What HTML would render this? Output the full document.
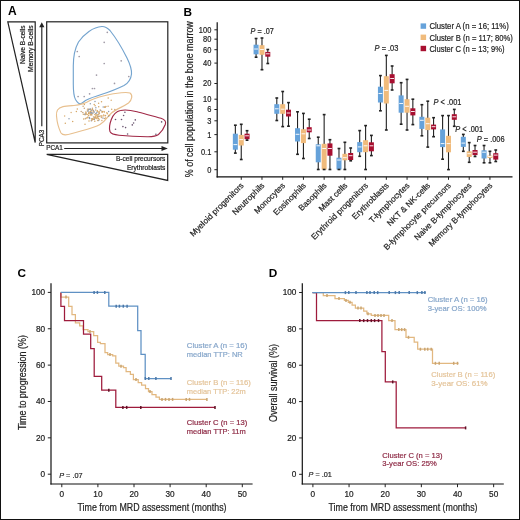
<!DOCTYPE html>
<html><head><meta charset="utf-8"><style>
html,body{margin:0;padding:0;background:#fff;}
svg{display:block;filter:blur(0.4px);}
text{font-family:"Liberation Sans",sans-serif;}
</style></head><body>
<svg width="520" height="520" viewBox="0 0 520 520" font-family="Liberation Sans, sans-serif">
<rect x="0" y="0" width="520" height="520" fill="#fff"/>
<text transform="translate(7.90,15.40)" font-size="12" fill="#000" font-weight="bold">A</text>
<polygon points="7.8,21.9 35.2,21.9 35.2,142.5" fill="none" stroke="#222" stroke-width="1.2"/>
<text transform="translate(25.30,25.40) rotate(-90)" font-size="6.6" fill="#222" stroke="#222" stroke-width="0.2" text-anchor="end">Naive B-cells</text>
<text transform="translate(33.10,25.40) rotate(-90)" font-size="6.75" fill="#222" stroke="#222" stroke-width="0.2" text-anchor="end">Memory B-cells</text>
<line x1="41.80" y1="126.30" x2="41.80" y2="26.50" stroke="#222" stroke-width="1.15" />
<polygon points="39.2,27.3 44.4,27.3 41.8,22.3" fill="#222"/>
<text transform="translate(43.60,146.30) rotate(-90)" font-size="6.4" fill="#222" stroke="#222" stroke-width="0.2">PCA3</text>
<rect x="46.7" y="21.8" width="121.1" height="121.1" fill="none" stroke="#222" stroke-width="1.2"/>
<text transform="translate(46.20,150.30)" font-size="6.4" fill="#222" stroke="#222" stroke-width="0.2">PCA1</text>
<line x1="64.20" y1="148.50" x2="162.00" y2="148.50" stroke="#222" stroke-width="1.15" />
<polygon points="161.5,146 161.5,151 167.8,148.5" fill="#222"/>
<polygon points="46.7,154.3 167.7,154.3 167.7,180.4" fill="none" stroke="#222" stroke-width="1.2"/>
<text transform="translate(165.40,161.30)" font-size="6.6" fill="#222" stroke="#222" stroke-width="0.2" text-anchor="end">B-cell precursors</text>
<text transform="translate(165.40,169.90)" font-size="6.6" fill="#222" stroke="#222" stroke-width="0.2" text-anchor="end">Erythroblasts</text>
<path d="M101.9,26.5 C93,27 84,34 78.5,42 C74,50 73.3,58 73.3,66 L73.3,84 C73.3,91 73.6,96 75.5,99.5 C77,102 78.8,104 80.4,103.9 C82.3,103.4 84,101.2 86.5,99.9 C91,97.8 96,96.2 102,94.3 C109,92 117,89 124,85.5 C128.5,83 131,79 131.5,74 C131.8,69 130,64 127,58 C122,48 116,38 110,30.5 C107,27.5 104,26.4 101.9,26.5 Z" fill="none" stroke="#74a4cf" stroke-width="1.15"/>
<path d="M57.5,110 C60,106 66,106 74,105.5 C80,105 85,103.5 90,100.5 C97,97 104,95.5 112,94 C119,93 126,91.5 130,93 C133,95 132,100 128.5,103 C123,107 116,109 111.5,113 C107,117 106,121 100,124.5 C93,128.5 82,130.5 72,133.5 C67,135 63,136 61,133 C59,129 57,122 56.5,116 C56.3,113 56.6,111.5 57.5,110 Z" fill="none" stroke="#e8c08f" stroke-width="1.15"/>
<path d="M120.5,110.5 C125,109.5 130,110 137,111.8 C145,114 155,116.5 161,118.3 C165,119.5 166.3,121.5 165.3,124.5 C164,128 162,131.5 158.5,134.5 C156,136.3 152,136.8 147,136.7 C138,136.5 128,136 119,135.2 C114,134.7 111,134 110,131.5 C109,128.5 109.6,124 111.3,119.5 C113,115 116,111.3 120.5,110.5 Z" fill="none" stroke="#a02846" stroke-width="1.15"/>
<circle cx="107.3" cy="32.3" r="0.85" fill="#a09aa6"/>
<circle cx="104.2" cy="42.3" r="0.85" fill="#a09aa6"/>
<circle cx="77.3" cy="51.5" r="0.85" fill="#a09aa6"/>
<circle cx="79.2" cy="56.5" r="0.85" fill="#a09aa6"/>
<circle cx="121.2" cy="60.8" r="0.85" fill="#a09aa6"/>
<circle cx="104.2" cy="63.5" r="0.85" fill="#a09aa6"/>
<circle cx="96.5" cy="75.1" r="0.85" fill="#a09aa6"/>
<circle cx="128.8" cy="76.5" r="0.85" fill="#a09aa6"/>
<circle cx="114.5" cy="83.4" r="0.85" fill="#a09aa6"/>
<circle cx="92.4" cy="88.5" r="0.85" fill="#a09aa6"/>
<circle cx="94.5" cy="88.5" r="0.85" fill="#a09aa6"/>
<circle cx="89.6" cy="93.8" r="0.85" fill="#a09aa6"/>
<circle cx="78.1" cy="96.5" r="0.85" fill="#a09aa6"/>
<circle cx="84.2" cy="96.5" r="0.85" fill="#a09aa6"/>
<circle cx="124.9" cy="112.2" r="0.8" fill="#6a5570"/>
<circle cx="123.6" cy="115.5" r="0.8" fill="#6a5570"/>
<circle cx="115.5" cy="119.5" r="0.8" fill="#6a5570"/>
<circle cx="121.5" cy="119.5" r="0.8" fill="#6a5570"/>
<circle cx="135.3" cy="119.9" r="0.8" fill="#6a5570"/>
<circle cx="133.6" cy="123" r="0.8" fill="#6a5570"/>
<circle cx="132.3" cy="124.9" r="0.8" fill="#6a5570"/>
<circle cx="122.9" cy="126.6" r="0.8" fill="#6a5570"/>
<circle cx="125.6" cy="127.6" r="0.8" fill="#6a5570"/>
<circle cx="115.5" cy="129.3" r="0.8" fill="#6a5570"/>
<circle cx="127.6" cy="134" r="0.8" fill="#6a5570"/>
<circle cx="155.9" cy="134.3" r="0.8" fill="#6a5570"/>
<circle cx="161.6" cy="121.9" r="0.8" fill="#6a5570"/>
<circle cx="98.1" cy="118.7" r="0.75" fill="#d6a766"/>
<circle cx="99.4" cy="113.3" r="0.75" fill="#c7a27a"/>
<circle cx="98.3" cy="116.3" r="0.75" fill="#8e9db2"/>
<circle cx="94.4" cy="119.5" r="0.75" fill="#d6a766"/>
<circle cx="65.3" cy="123.2" r="0.75" fill="#d6a766"/>
<circle cx="108.5" cy="116.2" r="0.75" fill="#8e9db2"/>
<circle cx="89.0" cy="120.9" r="0.75" fill="#d6a766"/>
<circle cx="89.5" cy="112.9" r="0.75" fill="#d6a766"/>
<circle cx="94.9" cy="114.5" r="0.75" fill="#d6a766"/>
<circle cx="82.8" cy="112.6" r="0.75" fill="#c7a27a"/>
<circle cx="85.9" cy="112.0" r="0.75" fill="#d6a766"/>
<circle cx="98.7" cy="120.4" r="0.75" fill="#8e9db2"/>
<circle cx="89.4" cy="117.6" r="0.75" fill="#8e9db2"/>
<circle cx="109.5" cy="115.6" r="0.75" fill="#dbb078"/>
<circle cx="91.3" cy="114.1" r="0.75" fill="#d6a766"/>
<circle cx="90.3" cy="108.9" r="0.75" fill="#8e9db2"/>
<circle cx="104.0" cy="111.5" r="0.75" fill="#dbb078"/>
<circle cx="91.9" cy="112.8" r="0.75" fill="#dbb078"/>
<circle cx="86.3" cy="117.9" r="0.75" fill="#d6a766"/>
<circle cx="85.3" cy="118.7" r="0.75" fill="#c7a27a"/>
<circle cx="93.4" cy="111.9" r="0.75" fill="#d6a766"/>
<circle cx="99.1" cy="111.7" r="0.75" fill="#d6a766"/>
<circle cx="81.2" cy="111.5" r="0.75" fill="#c7a27a"/>
<circle cx="95.2" cy="118.2" r="0.75" fill="#dbb078"/>
<circle cx="90.1" cy="114.0" r="0.75" fill="#d6a766"/>
<circle cx="93.5" cy="116.9" r="0.75" fill="#c7a27a"/>
<circle cx="103.0" cy="115.9" r="0.75" fill="#d6a766"/>
<circle cx="87.7" cy="117.8" r="0.75" fill="#d6a766"/>
<circle cx="77.3" cy="108.9" r="0.75" fill="#d6a766"/>
<circle cx="103.2" cy="106.9" r="0.75" fill="#8e9db2"/>
<circle cx="90.7" cy="115.1" r="0.75" fill="#c7a27a"/>
<circle cx="96.7" cy="115.1" r="0.75" fill="#d6a766"/>
<circle cx="90.8" cy="112.9" r="0.75" fill="#8e9db2"/>
<circle cx="97.6" cy="116.3" r="0.75" fill="#d6a766"/>
<circle cx="94.5" cy="117.8" r="0.75" fill="#dbb078"/>
<circle cx="84.4" cy="104.6" r="0.75" fill="#d6a766"/>
<circle cx="114.8" cy="109.6" r="0.75" fill="#c7a27a"/>
<circle cx="99.2" cy="119.2" r="0.75" fill="#dbb078"/>
<circle cx="90.4" cy="109.5" r="0.75" fill="#d6a766"/>
<circle cx="89.7" cy="109.2" r="0.75" fill="#8e9db2"/>
<circle cx="98.6" cy="103.3" r="0.75" fill="#d6a766"/>
<circle cx="97.0" cy="117.6" r="0.75" fill="#d6a766"/>
<circle cx="94.3" cy="118.9" r="0.75" fill="#8e9db2"/>
<circle cx="94.8" cy="121.2" r="0.75" fill="#d6a766"/>
<circle cx="108.2" cy="98.1" r="0.75" fill="#d6a766"/>
<circle cx="83.3" cy="114.3" r="0.75" fill="#d6a766"/>
<circle cx="88.3" cy="110.9" r="0.75" fill="#8e9db2"/>
<circle cx="64.6" cy="116.1" r="0.75" fill="#dbb078"/>
<circle cx="91.0" cy="114.2" r="0.75" fill="#d6a766"/>
<circle cx="89.4" cy="117.9" r="0.75" fill="#8e9db2"/>
<circle cx="76.4" cy="111.5" r="0.75" fill="#d6a766"/>
<circle cx="108.9" cy="115.4" r="0.75" fill="#d6a766"/>
<circle cx="97.6" cy="120.4" r="0.75" fill="#dbb078"/>
<circle cx="102.1" cy="111.9" r="0.75" fill="#c7a27a"/>
<circle cx="102.1" cy="111.9" r="0.75" fill="#d6a766"/>
<circle cx="88.4" cy="109.4" r="0.75" fill="#8e9db2"/>
<circle cx="90.3" cy="103.8" r="0.75" fill="#8e9db2"/>
<circle cx="103.7" cy="115.0" r="0.75" fill="#d6a766"/>
<circle cx="98.9" cy="112.3" r="0.75" fill="#d6a766"/>
<circle cx="100.8" cy="115.9" r="0.75" fill="#dbb078"/>
<circle cx="93.5" cy="110.5" r="0.75" fill="#8e9db2"/>
<circle cx="101.9" cy="120.4" r="0.75" fill="#dbb078"/>
<circle cx="98.7" cy="106.7" r="0.75" fill="#d6a766"/>
<circle cx="91.8" cy="113.9" r="0.75" fill="#c7a27a"/>
<circle cx="98.3" cy="118.3" r="0.75" fill="#d6a766"/>
<circle cx="89.7" cy="118.6" r="0.75" fill="#8e9db2"/>
<circle cx="95.1" cy="105.8" r="0.75" fill="#d6a766"/>
<circle cx="91.3" cy="120.8" r="0.75" fill="#8e9db2"/>
<circle cx="105.5" cy="115.5" r="0.75" fill="#d6a766"/>
<circle cx="87.6" cy="110.9" r="0.75" fill="#8e9db2"/>
<circle cx="91.8" cy="118.7" r="0.75" fill="#c7a27a"/>
<circle cx="93.1" cy="118.9" r="0.75" fill="#dbb078"/>
<circle cx="105.9" cy="106.6" r="0.75" fill="#c7a27a"/>
<circle cx="97.7" cy="117.0" r="0.75" fill="#d6a766"/>
<circle cx="88.7" cy="112.4" r="0.75" fill="#dbb078"/>
<circle cx="104.9" cy="107.2" r="0.75" fill="#dbb078"/>
<circle cx="104.6" cy="107.0" r="0.75" fill="#d6a766"/>
<circle cx="90.9" cy="111.5" r="0.75" fill="#c7a27a"/>
<circle cx="85.1" cy="114.8" r="0.75" fill="#dbb078"/>
<circle cx="92.8" cy="113.2" r="0.75" fill="#8e9db2"/>
<circle cx="91.3" cy="110.2" r="0.75" fill="#8e9db2"/>
<circle cx="92.5" cy="109.8" r="0.75" fill="#d6a766"/>
<circle cx="107.3" cy="113.8" r="0.75" fill="#d6a766"/>
<circle cx="111.2" cy="100.3" r="0.75" fill="#dbb078"/>
<circle cx="86.0" cy="112.9" r="0.75" fill="#c7a27a"/>
<circle cx="102.4" cy="111.5" r="0.75" fill="#d6a766"/>
<circle cx="105.7" cy="118.1" r="0.75" fill="#d6a766"/>
<circle cx="97.3" cy="110.7" r="0.75" fill="#dbb078"/>
<circle cx="69.0" cy="118.8" r="0.75" fill="#8e9db2"/>
<circle cx="88.6" cy="113.5" r="0.75" fill="#d6a766"/>
<circle cx="97.3" cy="115.0" r="0.75" fill="#dbb078"/>
<circle cx="88.0" cy="108.9" r="0.75" fill="#c7a27a"/>
<circle cx="95.4" cy="117.3" r="0.75" fill="#d6a766"/>
<circle cx="100.8" cy="110.4" r="0.75" fill="#8e9db2"/>
<circle cx="104.3" cy="118.4" r="0.75" fill="#c7a27a"/>
<circle cx="95.7" cy="110.1" r="0.75" fill="#c7a27a"/>
<circle cx="105.2" cy="107.2" r="0.75" fill="#dbb078"/>
<circle cx="111.7" cy="109.2" r="0.75" fill="#d6a766"/>
<circle cx="91.8" cy="115.1" r="0.75" fill="#d6a766"/>
<circle cx="84.3" cy="108.2" r="0.75" fill="#c7a27a"/>
<circle cx="102.9" cy="117.9" r="0.75" fill="#8e9db2"/>
<circle cx="95.8" cy="115.8" r="0.75" fill="#dbb078"/>
<circle cx="94.9" cy="116.9" r="0.75" fill="#d6a766"/>
<circle cx="108.6" cy="111.4" r="0.75" fill="#8e9db2"/>
<circle cx="105.1" cy="115.8" r="0.75" fill="#d6a766"/>
<circle cx="98.9" cy="114.0" r="0.75" fill="#c7a27a"/>
<circle cx="90.5" cy="111.5" r="0.75" fill="#d6a766"/>
<circle cx="94.4" cy="112.0" r="0.75" fill="#8e9db2"/>
<circle cx="98.1" cy="114.5" r="0.75" fill="#d6a766"/>
<circle cx="104.3" cy="111.9" r="0.75" fill="#d6a766"/>
<circle cx="85.0" cy="124.3" r="0.75" fill="#d6a766"/>
<circle cx="90.5" cy="112.5" r="0.75" fill="#8e9db2"/>
<circle cx="86.0" cy="113.3" r="0.75" fill="#d6a766"/>
<circle cx="94.2" cy="104.6" r="0.75" fill="#d6a766"/>
<circle cx="83.1" cy="106.3" r="0.75" fill="#c7a27a"/>
<circle cx="95.9" cy="107.7" r="0.75" fill="#8e9db2"/>
<circle cx="71.1" cy="112.4" r="0.75" fill="#dbb078"/>
<circle cx="93.2" cy="111.1" r="0.75" fill="#c7a27a"/>
<circle cx="87.9" cy="117.1" r="0.75" fill="#dbb078"/>
<circle cx="95.8" cy="116.4" r="0.75" fill="#dbb078"/>
<circle cx="95.7" cy="113.7" r="0.75" fill="#d6a766"/>
<circle cx="93.4" cy="119.3" r="0.75" fill="#c7a27a"/>
<circle cx="95.0" cy="101.4" r="0.75" fill="#8e9db2"/>
<circle cx="106.9" cy="112.7" r="0.75" fill="#d6a766"/>
<circle cx="99.3" cy="116.2" r="0.75" fill="#c7a27a"/>
<circle cx="72.7" cy="121.6" r="0.75" fill="#d6a766"/>
<circle cx="101.4" cy="117.6" r="0.75" fill="#dbb078"/>
<circle cx="100.1" cy="109.9" r="0.75" fill="#d6a766"/>
<circle cx="97.3" cy="111.2" r="0.75" fill="#d6a766"/>
<circle cx="86.4" cy="114.2" r="0.75" fill="#dbb078"/>
<circle cx="85.4" cy="113.9" r="0.75" fill="#d6a766"/>
<circle cx="108.1" cy="106.2" r="0.75" fill="#dbb078"/>
<circle cx="83.7" cy="119.1" r="0.75" fill="#d6a766"/>
<circle cx="88.7" cy="115.4" r="0.75" fill="#d6a766"/>
<circle cx="101.4" cy="115.9" r="0.75" fill="#d6a766"/>
<circle cx="92.3" cy="118.8" r="0.75" fill="#d6a766"/>
<circle cx="101.5" cy="101.8" r="0.75" fill="#d6a766"/>
<circle cx="92.3" cy="109.6" r="0.75" fill="#d6a766"/>
<circle cx="96.9" cy="112.5" r="0.75" fill="#8e9db2"/>
<circle cx="87.6" cy="114.6" r="0.75" fill="#dbb078"/>
<circle cx="92.4" cy="108.2" r="0.75" fill="#c7a27a"/>
<circle cx="92.0" cy="119.7" r="0.75" fill="#c7a27a"/>
<circle cx="91.5" cy="112.8" r="0.75" fill="#8e9db2"/>
<circle cx="87.4" cy="110.1" r="0.75" fill="#dbb078"/>
<circle cx="90.2" cy="111.4" r="0.75" fill="#d6a766"/>
<circle cx="96.5" cy="118.5" r="0.75" fill="#dbb078"/>
<circle cx="92.6" cy="119.2" r="0.75" fill="#d6a766"/>
<circle cx="84.8" cy="114.3" r="0.75" fill="#8e9db2"/>
<circle cx="91.7" cy="120.6" r="0.75" fill="#c7a27a"/>
<circle cx="96.0" cy="113.6" r="0.75" fill="#8e9db2"/>
<text transform="translate(183.60,15.70)" font-size="11.8" fill="#000" font-weight="bold">B</text>
<line x1="217.20" y1="22.30" x2="217.20" y2="177.40" stroke="#111" stroke-width="1.2" />
<line x1="216.60" y1="176.80" x2="512.50" y2="176.80" stroke="#111" stroke-width="1.2" />
<line x1="214.40" y1="29.80" x2="217.20" y2="29.80" stroke="#222" stroke-width="1" />
<text transform="translate(211.30,32.70) scale(0.9,1)" font-size="8.3" fill="#222" stroke="#222" stroke-width="0.2" text-anchor="end">100</text>
<line x1="214.40" y1="39.20" x2="217.20" y2="39.20" stroke="#222" stroke-width="1" />
<text transform="translate(211.30,42.10) scale(0.9,1)" font-size="8.3" fill="#222" stroke="#222" stroke-width="0.2" text-anchor="end">80</text>
<line x1="214.40" y1="49.70" x2="217.20" y2="49.70" stroke="#222" stroke-width="1" />
<text transform="translate(211.30,52.60) scale(0.9,1)" font-size="8.3" fill="#222" stroke="#222" stroke-width="0.2" text-anchor="end">60</text>
<line x1="214.40" y1="63.10" x2="217.20" y2="63.10" stroke="#222" stroke-width="1" />
<text transform="translate(211.30,66.00) scale(0.9,1)" font-size="8.3" fill="#222" stroke="#222" stroke-width="0.2" text-anchor="end">40</text>
<line x1="214.40" y1="83.50" x2="217.20" y2="83.50" stroke="#222" stroke-width="1" />
<text transform="translate(211.30,86.40) scale(0.9,1)" font-size="8.3" fill="#222" stroke="#222" stroke-width="0.2" text-anchor="end">20</text>
<line x1="214.40" y1="99.20" x2="217.20" y2="99.20" stroke="#222" stroke-width="1" />
<text transform="translate(211.30,102.10) scale(0.9,1)" font-size="8.3" fill="#222" stroke="#222" stroke-width="0.2" text-anchor="end">10</text>
<line x1="214.40" y1="109.50" x2="217.20" y2="109.50" stroke="#222" stroke-width="1" />
<text transform="translate(211.30,112.40) scale(0.9,1)" font-size="8.3" fill="#222" stroke="#222" stroke-width="0.2" text-anchor="end">6</text>
<line x1="214.40" y1="120.80" x2="217.20" y2="120.80" stroke="#222" stroke-width="1" />
<text transform="translate(211.30,123.70) scale(0.9,1)" font-size="8.3" fill="#222" stroke="#222" stroke-width="0.2" text-anchor="end">3</text>
<line x1="214.40" y1="134.60" x2="217.20" y2="134.60" stroke="#222" stroke-width="1" />
<text transform="translate(211.30,137.50) scale(0.9,1)" font-size="8.3" fill="#222" stroke="#222" stroke-width="0.2" text-anchor="end">1</text>
<line x1="214.40" y1="151.80" x2="217.20" y2="151.80" stroke="#222" stroke-width="1" />
<text transform="translate(211.30,154.70) scale(0.9,1)" font-size="8.3" fill="#222" stroke="#222" stroke-width="0.2" text-anchor="end">0.1</text>
<line x1="214.40" y1="169.70" x2="217.20" y2="169.70" stroke="#222" stroke-width="1" />
<text transform="translate(211.30,172.60) scale(0.9,1)" font-size="8.3" fill="#222" stroke="#222" stroke-width="0.2" text-anchor="end">0</text>
<text transform="translate(192.7,99.2) rotate(-90)" font-size="10.2" fill="#222" stroke="#222" stroke-width="0.2" text-anchor="middle" textLength="156" lengthAdjust="spacingAndGlyphs">% of cell population in the bone marrow</text>
<line x1="241.25" y1="176.80" x2="241.25" y2="179.80" stroke="#222" stroke-width="1" />
<text transform="translate(244.25,186.00) rotate(-45)" font-size="8.25" fill="#222" stroke="#222" stroke-width="0.2" text-anchor="end">Myeloid progenitors</text>
<line x1="261.98" y1="176.80" x2="261.98" y2="179.80" stroke="#222" stroke-width="1" />
<text transform="translate(264.98,186.00) rotate(-45)" font-size="8.25" fill="#222" stroke="#222" stroke-width="0.2" text-anchor="end">Neutrophils</text>
<line x1="282.70" y1="176.80" x2="282.70" y2="179.80" stroke="#222" stroke-width="1" />
<text transform="translate(285.70,186.00) rotate(-45)" font-size="8.25" fill="#222" stroke="#222" stroke-width="0.2" text-anchor="end">Monocytes</text>
<line x1="303.43" y1="176.80" x2="303.43" y2="179.80" stroke="#222" stroke-width="1" />
<text transform="translate(306.43,186.00) rotate(-45)" font-size="8.25" fill="#222" stroke="#222" stroke-width="0.2" text-anchor="end">Eosinophils</text>
<line x1="324.15" y1="176.80" x2="324.15" y2="179.80" stroke="#222" stroke-width="1" />
<text transform="translate(327.15,186.00) rotate(-45)" font-size="8.25" fill="#222" stroke="#222" stroke-width="0.2" text-anchor="end">Basophils</text>
<line x1="344.88" y1="176.80" x2="344.88" y2="179.80" stroke="#222" stroke-width="1" />
<text transform="translate(347.88,186.00) rotate(-45)" font-size="8.25" fill="#222" stroke="#222" stroke-width="0.2" text-anchor="end">Mast cells</text>
<line x1="365.60" y1="176.80" x2="365.60" y2="179.80" stroke="#222" stroke-width="1" />
<text transform="translate(368.60,186.00) rotate(-45)" font-size="8.25" fill="#222" stroke="#222" stroke-width="0.2" text-anchor="end">Erythroid progenitors</text>
<line x1="386.33" y1="176.80" x2="386.33" y2="179.80" stroke="#222" stroke-width="1" />
<text transform="translate(389.33,186.00) rotate(-45)" font-size="8.25" fill="#222" stroke="#222" stroke-width="0.2" text-anchor="end">Erythroblasts</text>
<line x1="407.05" y1="176.80" x2="407.05" y2="179.80" stroke="#222" stroke-width="1" />
<text transform="translate(410.05,186.00) rotate(-45)" font-size="8.25" fill="#222" stroke="#222" stroke-width="0.2" text-anchor="end">T-lymphocytes</text>
<line x1="427.77" y1="176.80" x2="427.77" y2="179.80" stroke="#222" stroke-width="1" />
<text transform="translate(430.77,186.00) rotate(-45)" font-size="8.25" fill="#222" stroke="#222" stroke-width="0.2" text-anchor="end">NKT &amp; NK-cells</text>
<line x1="448.50" y1="176.80" x2="448.50" y2="179.80" stroke="#222" stroke-width="1" />
<text transform="translate(451.50,186.00) rotate(-45)" font-size="8.25" fill="#222" stroke="#222" stroke-width="0.2" text-anchor="end">B-lymphocyte precursors</text>
<line x1="469.23" y1="176.80" x2="469.23" y2="179.80" stroke="#222" stroke-width="1" />
<text transform="translate(472.23,186.00) rotate(-45)" font-size="8.25" fill="#222" stroke="#222" stroke-width="0.2" text-anchor="end">Naive B-lymphocytes</text>
<line x1="489.95" y1="176.80" x2="489.95" y2="179.80" stroke="#222" stroke-width="1" />
<text transform="translate(492.95,186.00) rotate(-45)" font-size="8.25" fill="#222" stroke="#222" stroke-width="0.2" text-anchor="end">Memory B-lymphocytes</text>
<line x1="235.35" y1="125.20" x2="235.35" y2="153.10" stroke="#222" stroke-width="1.1" />
<rect x="232.85" y="133.7" width="5.0" height="16.00" fill="#66a2da"/>
<line x1="233.45" y1="144.60" x2="237.25" y2="144.60" stroke="#fff" stroke-width="0.9" />
<rect x="233.95" y="124.40" width="2.8" height="1.6" fill="#222"/>
<rect x="233.95" y="152.30" width="2.8" height="1.6" fill="#222"/>
<line x1="241.25" y1="124.30" x2="241.25" y2="159.50" stroke="#222" stroke-width="1.1" />
<rect x="238.75" y="134.9" width="5.0" height="10.60" fill="#f0bb7c"/>
<line x1="239.35" y1="139.60" x2="243.15" y2="139.60" stroke="#fff" stroke-width="0.9" />
<rect x="239.85" y="123.50" width="2.8" height="1.6" fill="#222"/>
<rect x="239.85" y="158.70" width="2.8" height="1.6" fill="#222"/>
<line x1="247.05" y1="130.70" x2="247.05" y2="140.20" stroke="#222" stroke-width="1.1" />
<rect x="244.55" y="133.7" width="5.0" height="5.50" fill="#a80f30"/>
<line x1="245.15" y1="135.80" x2="248.95" y2="135.80" stroke="#fff" stroke-width="0.9" />
<rect x="245.65" y="129.90" width="2.8" height="1.6" fill="#222"/>
<rect x="245.65" y="139.40" width="2.8" height="1.6" fill="#222"/>
<line x1="256.08" y1="38.50" x2="256.08" y2="57.20" stroke="#222" stroke-width="1.1" />
<rect x="253.58" y="44.7" width="5.0" height="9.60" fill="#66a2da"/>
<line x1="254.18" y1="49.00" x2="257.98" y2="49.00" stroke="#fff" stroke-width="0.9" />
<rect x="254.68" y="37.70" width="2.8" height="1.6" fill="#222"/>
<rect x="254.68" y="56.40" width="2.8" height="1.6" fill="#222"/>
<line x1="261.98" y1="38.00" x2="261.98" y2="69.70" stroke="#222" stroke-width="1.1" />
<rect x="259.48" y="45.2" width="5.0" height="9.60" fill="#f0bb7c"/>
<line x1="260.08" y1="49.50" x2="263.88" y2="49.50" stroke="#fff" stroke-width="0.9" />
<rect x="260.58" y="37.20" width="2.8" height="1.6" fill="#222"/>
<rect x="260.58" y="68.90" width="2.8" height="1.6" fill="#222"/>
<line x1="267.78" y1="49.50" x2="267.78" y2="63.50" stroke="#222" stroke-width="1.1" />
<rect x="265.28" y="51.9" width="5.0" height="4.80" fill="#a80f30"/>
<line x1="265.88" y1="53.80" x2="269.68" y2="53.80" stroke="#fff" stroke-width="0.9" />
<rect x="266.38" y="48.70" width="2.8" height="1.6" fill="#222"/>
<rect x="266.38" y="62.70" width="2.8" height="1.6" fill="#222"/>
<line x1="276.80" y1="98.00" x2="276.80" y2="120.50" stroke="#222" stroke-width="1.1" />
<rect x="274.30" y="104.2" width="5.0" height="9.60" fill="#66a2da"/>
<line x1="274.90" y1="108.80" x2="278.70" y2="108.80" stroke="#fff" stroke-width="0.9" />
<rect x="275.40" y="97.20" width="2.8" height="1.6" fill="#222"/>
<rect x="275.40" y="119.70" width="2.8" height="1.6" fill="#222"/>
<line x1="282.70" y1="91.50" x2="282.70" y2="126.60" stroke="#222" stroke-width="1.1" />
<rect x="280.20" y="104.2" width="5.0" height="9.60" fill="#f0bb7c"/>
<line x1="280.80" y1="109.20" x2="284.60" y2="109.20" stroke="#fff" stroke-width="0.9" />
<rect x="281.30" y="90.70" width="2.8" height="1.6" fill="#222"/>
<rect x="281.30" y="125.80" width="2.8" height="1.6" fill="#222"/>
<line x1="288.50" y1="102.60" x2="288.50" y2="126.20" stroke="#222" stroke-width="1.1" />
<rect x="286.00" y="109.7" width="5.0" height="6.80" fill="#a80f30"/>
<line x1="286.60" y1="113.00" x2="290.40" y2="113.00" stroke="#fff" stroke-width="0.9" />
<rect x="287.10" y="101.80" width="2.8" height="1.6" fill="#222"/>
<rect x="287.10" y="125.40" width="2.8" height="1.6" fill="#222"/>
<line x1="297.53" y1="111.80" x2="297.53" y2="154.30" stroke="#222" stroke-width="1.1" />
<rect x="295.03" y="128.2" width="5.0" height="13.30" fill="#66a2da"/>
<line x1="295.63" y1="134.30" x2="299.43" y2="134.30" stroke="#fff" stroke-width="0.9" />
<rect x="296.13" y="111.00" width="2.8" height="1.6" fill="#222"/>
<rect x="296.13" y="153.50" width="2.8" height="1.6" fill="#222"/>
<line x1="303.43" y1="113.40" x2="303.43" y2="158.50" stroke="#222" stroke-width="1.1" />
<rect x="300.93" y="129.2" width="5.0" height="13.90" fill="#f0bb7c"/>
<line x1="301.53" y1="133.80" x2="305.32" y2="133.80" stroke="#fff" stroke-width="0.9" />
<rect x="302.03" y="112.60" width="2.8" height="1.6" fill="#222"/>
<rect x="302.03" y="157.70" width="2.8" height="1.6" fill="#222"/>
<line x1="309.23" y1="119.20" x2="309.23" y2="138.50" stroke="#222" stroke-width="1.1" />
<rect x="306.73" y="127.2" width="5.0" height="5.10" fill="#a80f30"/>
<line x1="307.33" y1="130.00" x2="311.12" y2="130.00" stroke="#fff" stroke-width="0.9" />
<rect x="307.83" y="118.40" width="2.8" height="1.6" fill="#222"/>
<rect x="307.83" y="137.70" width="2.8" height="1.6" fill="#222"/>
<line x1="318.25" y1="137.20" x2="318.25" y2="169.50" stroke="#222" stroke-width="1.1" />
<rect x="315.75" y="144.3" width="5.0" height="18.00" fill="#66a2da"/>
<line x1="316.35" y1="145.80" x2="320.15" y2="145.80" stroke="#fff" stroke-width="0.9" />
<rect x="316.85" y="136.40" width="2.8" height="1.6" fill="#222"/>
<rect x="316.85" y="168.70" width="2.8" height="1.6" fill="#222"/>
<line x1="324.15" y1="114.60" x2="324.15" y2="169.50" stroke="#222" stroke-width="1.1" />
<rect x="321.65" y="143.8" width="5.0" height="25.70" fill="#f0bb7c"/>
<line x1="322.25" y1="148.50" x2="326.05" y2="148.50" stroke="#fff" stroke-width="0.9" />
<rect x="322.75" y="113.80" width="2.8" height="1.6" fill="#222"/>
<rect x="322.75" y="168.70" width="2.8" height="1.6" fill="#222"/>
<line x1="329.95" y1="139.70" x2="329.95" y2="169.50" stroke="#222" stroke-width="1.1" />
<rect x="327.45" y="143.4" width="5.0" height="12.30" fill="#a80f30"/>
<line x1="328.05" y1="148.50" x2="331.85" y2="148.50" stroke="#fff" stroke-width="0.9" />
<rect x="328.55" y="138.90" width="2.8" height="1.6" fill="#222"/>
<rect x="328.55" y="168.70" width="2.8" height="1.6" fill="#222"/>
<line x1="338.98" y1="148.50" x2="338.98" y2="169.50" stroke="#222" stroke-width="1.1" />
<rect x="336.48" y="157.7" width="5.0" height="11.80" fill="#66a2da"/>
<line x1="337.08" y1="160.00" x2="340.88" y2="160.00" stroke="#fff" stroke-width="0.9" />
<rect x="337.58" y="147.70" width="2.8" height="1.6" fill="#222"/>
<rect x="337.58" y="168.70" width="2.8" height="1.6" fill="#222"/>
<line x1="344.88" y1="142.30" x2="344.88" y2="169.50" stroke="#222" stroke-width="1.1" />
<rect x="342.38" y="153.8" width="5.0" height="6.50" fill="#f0bb7c"/>
<line x1="342.98" y1="157.70" x2="346.77" y2="157.70" stroke="#fff" stroke-width="0.9" />
<rect x="343.48" y="141.50" width="2.8" height="1.6" fill="#222"/>
<rect x="343.48" y="168.70" width="2.8" height="1.6" fill="#222"/>
<line x1="350.68" y1="148.00" x2="350.68" y2="160.80" stroke="#222" stroke-width="1.1" />
<rect x="348.18" y="153" width="5.0" height="7.00" fill="#a80f30"/>
<line x1="348.78" y1="155.70" x2="352.57" y2="155.70" stroke="#fff" stroke-width="0.9" />
<rect x="349.28" y="147.20" width="2.8" height="1.6" fill="#222"/>
<rect x="349.28" y="160.00" width="2.8" height="1.6" fill="#222"/>
<line x1="359.70" y1="130.60" x2="359.70" y2="156.30" stroke="#222" stroke-width="1.1" />
<rect x="357.20" y="142.1" width="5.0" height="10.10" fill="#66a2da"/>
<line x1="357.80" y1="146.90" x2="361.60" y2="146.90" stroke="#fff" stroke-width="0.9" />
<rect x="358.30" y="129.80" width="2.8" height="1.6" fill="#222"/>
<rect x="358.30" y="155.50" width="2.8" height="1.6" fill="#222"/>
<line x1="365.60" y1="125.60" x2="365.60" y2="169.50" stroke="#222" stroke-width="1.1" />
<rect x="363.10" y="140.2" width="5.0" height="12.00" fill="#f0bb7c"/>
<line x1="363.70" y1="145.80" x2="367.50" y2="145.80" stroke="#fff" stroke-width="0.9" />
<rect x="364.20" y="124.80" width="2.8" height="1.6" fill="#222"/>
<rect x="364.20" y="168.70" width="2.8" height="1.6" fill="#222"/>
<line x1="371.40" y1="135.40" x2="371.40" y2="155.60" stroke="#222" stroke-width="1.1" />
<rect x="368.90" y="142.3" width="5.0" height="9.00" fill="#a80f30"/>
<line x1="369.50" y1="145.80" x2="373.30" y2="145.80" stroke="#fff" stroke-width="0.9" />
<rect x="370.00" y="134.60" width="2.8" height="1.6" fill="#222"/>
<rect x="370.00" y="154.80" width="2.8" height="1.6" fill="#222"/>
<line x1="380.43" y1="75.60" x2="380.43" y2="110.80" stroke="#222" stroke-width="1.1" />
<rect x="377.93" y="86.7" width="5.0" height="15.80" fill="#66a2da"/>
<line x1="378.53" y1="93.50" x2="382.33" y2="93.50" stroke="#fff" stroke-width="0.9" />
<rect x="379.03" y="74.80" width="2.8" height="1.6" fill="#222"/>
<rect x="379.03" y="110.00" width="2.8" height="1.6" fill="#222"/>
<line x1="386.33" y1="55.40" x2="386.33" y2="130.00" stroke="#222" stroke-width="1.1" />
<rect x="383.83" y="76.2" width="5.0" height="27.30" fill="#f0bb7c"/>
<line x1="384.43" y1="90.40" x2="388.23" y2="90.40" stroke="#fff" stroke-width="0.9" />
<rect x="384.93" y="54.60" width="2.8" height="1.6" fill="#222"/>
<rect x="384.93" y="129.20" width="2.8" height="1.6" fill="#222"/>
<line x1="392.13" y1="66.00" x2="392.13" y2="90.00" stroke="#222" stroke-width="1.1" />
<rect x="389.63" y="74.2" width="5.0" height="9.10" fill="#a80f30"/>
<line x1="390.23" y1="78.50" x2="394.03" y2="78.50" stroke="#fff" stroke-width="0.9" />
<rect x="390.73" y="65.20" width="2.8" height="1.6" fill="#222"/>
<rect x="390.73" y="89.20" width="2.8" height="1.6" fill="#222"/>
<line x1="401.15" y1="82.70" x2="401.15" y2="124.20" stroke="#222" stroke-width="1.1" />
<rect x="398.65" y="95.4" width="5.0" height="17.30" fill="#66a2da"/>
<line x1="399.25" y1="103.50" x2="403.05" y2="103.50" stroke="#fff" stroke-width="0.9" />
<rect x="399.75" y="81.90" width="2.8" height="1.6" fill="#222"/>
<rect x="399.75" y="123.40" width="2.8" height="1.6" fill="#222"/>
<line x1="407.05" y1="79.40" x2="407.05" y2="130.00" stroke="#222" stroke-width="1.1" />
<rect x="404.55" y="99.2" width="5.0" height="13.50" fill="#f0bb7c"/>
<line x1="405.15" y1="106.30" x2="408.95" y2="106.30" stroke="#fff" stroke-width="0.9" />
<rect x="405.65" y="78.60" width="2.8" height="1.6" fill="#222"/>
<rect x="405.65" y="129.20" width="2.8" height="1.6" fill="#222"/>
<line x1="412.85" y1="99.20" x2="412.85" y2="124.60" stroke="#222" stroke-width="1.1" />
<rect x="410.35" y="108.3" width="5.0" height="7.10" fill="#a80f30"/>
<line x1="410.95" y1="111.50" x2="414.75" y2="111.50" stroke="#fff" stroke-width="0.9" />
<rect x="411.45" y="98.40" width="2.8" height="1.6" fill="#222"/>
<rect x="411.45" y="123.80" width="2.8" height="1.6" fill="#222"/>
<line x1="421.88" y1="104.70" x2="421.88" y2="135.80" stroke="#222" stroke-width="1.1" />
<rect x="419.38" y="116.8" width="5.0" height="12.10" fill="#66a2da"/>
<line x1="419.98" y1="120.30" x2="423.77" y2="120.30" stroke="#fff" stroke-width="0.9" />
<rect x="420.48" y="103.90" width="2.8" height="1.6" fill="#222"/>
<rect x="420.48" y="135.00" width="2.8" height="1.6" fill="#222"/>
<line x1="427.77" y1="101.20" x2="427.77" y2="147.10" stroke="#222" stroke-width="1.1" />
<rect x="425.27" y="117.7" width="5.0" height="12.40" fill="#f0bb7c"/>
<line x1="425.88" y1="123.70" x2="429.67" y2="123.70" stroke="#fff" stroke-width="0.9" />
<rect x="426.38" y="100.40" width="2.8" height="1.6" fill="#222"/>
<rect x="426.38" y="146.30" width="2.8" height="1.6" fill="#222"/>
<line x1="433.57" y1="117.70" x2="433.57" y2="136.70" stroke="#222" stroke-width="1.1" />
<rect x="431.07" y="124.6" width="5.0" height="4.80" fill="#a80f30"/>
<line x1="431.68" y1="126.70" x2="435.47" y2="126.70" stroke="#fff" stroke-width="0.9" />
<rect x="432.18" y="116.90" width="2.8" height="1.6" fill="#222"/>
<rect x="432.18" y="135.90" width="2.8" height="1.6" fill="#222"/>
<line x1="442.60" y1="115.60" x2="442.60" y2="159.20" stroke="#222" stroke-width="1.1" />
<rect x="440.10" y="129.4" width="5.0" height="17.70" fill="#66a2da"/>
<line x1="440.70" y1="143.60" x2="444.50" y2="143.60" stroke="#fff" stroke-width="0.9" />
<rect x="441.20" y="114.80" width="2.8" height="1.6" fill="#222"/>
<rect x="441.20" y="158.40" width="2.8" height="1.6" fill="#222"/>
<line x1="448.50" y1="115.60" x2="448.50" y2="169.60" stroke="#222" stroke-width="1.1" />
<rect x="446.00" y="135.8" width="5.0" height="16.50" fill="#f0bb7c"/>
<line x1="446.60" y1="143.60" x2="450.40" y2="143.60" stroke="#fff" stroke-width="0.9" />
<rect x="447.10" y="114.80" width="2.8" height="1.6" fill="#222"/>
<rect x="447.10" y="168.80" width="2.8" height="1.6" fill="#222"/>
<line x1="454.30" y1="109.40" x2="454.30" y2="126.30" stroke="#222" stroke-width="1.1" />
<rect x="451.80" y="114.2" width="5.0" height="5.60" fill="#a80f30"/>
<line x1="452.40" y1="116.80" x2="456.20" y2="116.80" stroke="#fff" stroke-width="0.9" />
<rect x="452.90" y="108.60" width="2.8" height="1.6" fill="#222"/>
<rect x="452.90" y="125.50" width="2.8" height="1.6" fill="#222"/>
<line x1="463.33" y1="134.40" x2="463.33" y2="151.30" stroke="#222" stroke-width="1.1" />
<rect x="460.83" y="136.8" width="5.0" height="10.10" fill="#66a2da"/>
<line x1="461.43" y1="143.10" x2="465.23" y2="143.10" stroke="#fff" stroke-width="0.9" />
<rect x="461.93" y="133.60" width="2.8" height="1.6" fill="#222"/>
<rect x="461.93" y="150.50" width="2.8" height="1.6" fill="#222"/>
<line x1="469.23" y1="142.60" x2="469.23" y2="162.30" stroke="#222" stroke-width="1.1" />
<rect x="466.73" y="151.3" width="5.0" height="5.70" fill="#f0bb7c"/>
<line x1="467.33" y1="153.70" x2="471.12" y2="153.70" stroke="#fff" stroke-width="0.9" />
<rect x="467.83" y="141.80" width="2.8" height="1.6" fill="#222"/>
<rect x="467.83" y="161.50" width="2.8" height="1.6" fill="#222"/>
<line x1="475.03" y1="145.50" x2="475.03" y2="156.50" stroke="#222" stroke-width="1.1" />
<rect x="472.53" y="150" width="5.0" height="5.10" fill="#a80f30"/>
<line x1="473.13" y1="152.20" x2="476.93" y2="152.20" stroke="#fff" stroke-width="0.9" />
<rect x="473.63" y="144.70" width="2.8" height="1.6" fill="#222"/>
<rect x="473.63" y="155.70" width="2.8" height="1.6" fill="#222"/>
<line x1="484.05" y1="145.50" x2="484.05" y2="162.80" stroke="#222" stroke-width="1.1" />
<rect x="481.55" y="150.3" width="5.0" height="8.20" fill="#66a2da"/>
<line x1="482.15" y1="152.20" x2="485.95" y2="152.20" stroke="#fff" stroke-width="0.9" />
<rect x="482.65" y="144.70" width="2.8" height="1.6" fill="#222"/>
<rect x="482.65" y="162.00" width="2.8" height="1.6" fill="#222"/>
<line x1="489.95" y1="151.30" x2="489.95" y2="162.80" stroke="#222" stroke-width="1.1" />
<rect x="487.45" y="155.6" width="5.0" height="2.40" fill="#f0bb7c"/>
<line x1="488.05" y1="156.50" x2="491.85" y2="156.50" stroke="#fff" stroke-width="0.9" />
<rect x="488.55" y="150.50" width="2.8" height="1.6" fill="#222"/>
<rect x="488.55" y="162.00" width="2.8" height="1.6" fill="#222"/>
<line x1="495.75" y1="150.00" x2="495.75" y2="161.50" stroke="#222" stroke-width="1.1" />
<rect x="493.25" y="153.2" width="5.0" height="6.40" fill="#a80f30"/>
<line x1="493.85" y1="155.10" x2="497.65" y2="155.10" stroke="#fff" stroke-width="0.9" />
<rect x="494.35" y="149.20" width="2.8" height="1.6" fill="#222"/>
<rect x="494.35" y="160.70" width="2.8" height="1.6" fill="#222"/>
<rect x="420.6" y="23.40" width="5.5" height="5.4" fill="#66a2da"/>
<text transform="translate(429.40,29.30)" font-size="8.7" fill="#222" stroke="#222" stroke-width="0.2" textLength="79.4" lengthAdjust="spacingAndGlyphs">Cluster A (n = 16; 11%)</text>
<rect x="420.6" y="34.60" width="5.5" height="5.4" fill="#f0bb7c"/>
<text transform="translate(429.40,40.50)" font-size="8.7" fill="#222" stroke="#222" stroke-width="0.2" textLength="83.5" lengthAdjust="spacingAndGlyphs">Cluster B (n = 117; 80%)</text>
<rect x="420.6" y="45.80" width="5.5" height="5.4" fill="#a80f30"/>
<text transform="translate(429.40,51.70)" font-size="8.7" fill="#222" stroke="#222" stroke-width="0.2" textLength="75.0" lengthAdjust="spacingAndGlyphs">Cluster C (n = 13; 9%)</text>
<text transform="translate(250.60,33.80)" font-size="8.3" fill="#222" stroke="#222" stroke-width="0.2" textLength="23.2" lengthAdjust="spacingAndGlyphs"><tspan font-style="italic">P</tspan> = .07</text>
<text transform="translate(374.60,50.90)" font-size="8.3" fill="#222" stroke="#222" stroke-width="0.2" textLength="23.8" lengthAdjust="spacingAndGlyphs"><tspan font-style="italic">P</tspan> = .03</text>
<text transform="translate(433.60,105.30)" font-size="8.3" fill="#222" stroke="#222" stroke-width="0.2" textLength="27.8" lengthAdjust="spacingAndGlyphs"><tspan font-style="italic">P</tspan> &lt; .001</text>
<text transform="translate(455.30,131.70)" font-size="8.3" fill="#222" stroke="#222" stroke-width="0.2" textLength="27.8" lengthAdjust="spacingAndGlyphs"><tspan font-style="italic">P</tspan> &lt; .001</text>
<text transform="translate(476.80,141.70)" font-size="8.3" fill="#222" stroke="#222" stroke-width="0.2" textLength="27.8" lengthAdjust="spacingAndGlyphs"><tspan font-style="italic">P</tspan> = .006</text>
<text transform="translate(17.50,277.20)" font-size="11.8" fill="#000" font-weight="bold">C</text>
<line x1="51.00" y1="283.20" x2="51.00" y2="484.60" stroke="#111" stroke-width="1.2" />
<line x1="50.40" y1="484.00" x2="252.60" y2="484.00" stroke="#111" stroke-width="1.2" />
<line x1="47.80" y1="292.40" x2="51.00" y2="292.40" stroke="#222" stroke-width="1" />
<text transform="translate(45.20,295.30) scale(0.97,1)" font-size="8.5" fill="#222" stroke="#222" stroke-width="0.2" text-anchor="end">100</text>
<line x1="47.80" y1="328.76" x2="51.00" y2="328.76" stroke="#222" stroke-width="1" />
<text transform="translate(45.20,331.66) scale(0.97,1)" font-size="8.5" fill="#222" stroke="#222" stroke-width="0.2" text-anchor="end">80</text>
<line x1="47.80" y1="365.12" x2="51.00" y2="365.12" stroke="#222" stroke-width="1" />
<text transform="translate(45.20,368.02) scale(0.97,1)" font-size="8.5" fill="#222" stroke="#222" stroke-width="0.2" text-anchor="end">60</text>
<line x1="47.80" y1="401.48" x2="51.00" y2="401.48" stroke="#222" stroke-width="1" />
<text transform="translate(45.20,404.38) scale(0.97,1)" font-size="8.5" fill="#222" stroke="#222" stroke-width="0.2" text-anchor="end">40</text>
<line x1="47.80" y1="437.84" x2="51.00" y2="437.84" stroke="#222" stroke-width="1" />
<text transform="translate(45.20,440.74) scale(0.97,1)" font-size="8.5" fill="#222" stroke="#222" stroke-width="0.2" text-anchor="end">20</text>
<line x1="47.80" y1="474.20" x2="51.00" y2="474.20" stroke="#222" stroke-width="1" />
<text transform="translate(45.20,477.10) scale(0.97,1)" font-size="8.5" fill="#222" stroke="#222" stroke-width="0.2" text-anchor="end">0</text>
<line x1="61.80" y1="484.00" x2="61.80" y2="487.20" stroke="#222" stroke-width="1" />
<text transform="translate(61.80,497.30) scale(0.97,1)" font-size="8.5" fill="#222" stroke="#222" stroke-width="0.2" text-anchor="middle">0</text>
<line x1="97.90" y1="484.00" x2="97.90" y2="487.20" stroke="#222" stroke-width="1" />
<text transform="translate(97.90,497.30) scale(0.97,1)" font-size="8.5" fill="#222" stroke="#222" stroke-width="0.2" text-anchor="middle">10</text>
<line x1="134.00" y1="484.00" x2="134.00" y2="487.20" stroke="#222" stroke-width="1" />
<text transform="translate(134.00,497.30) scale(0.97,1)" font-size="8.5" fill="#222" stroke="#222" stroke-width="0.2" text-anchor="middle">20</text>
<line x1="170.10" y1="484.00" x2="170.10" y2="487.20" stroke="#222" stroke-width="1" />
<text transform="translate(170.10,497.30) scale(0.97,1)" font-size="8.5" fill="#222" stroke="#222" stroke-width="0.2" text-anchor="middle">30</text>
<line x1="206.20" y1="484.00" x2="206.20" y2="487.20" stroke="#222" stroke-width="1" />
<text transform="translate(206.20,497.30) scale(0.97,1)" font-size="8.5" fill="#222" stroke="#222" stroke-width="0.2" text-anchor="middle">40</text>
<line x1="242.30" y1="484.00" x2="242.30" y2="487.20" stroke="#222" stroke-width="1" />
<text transform="translate(242.30,497.30) scale(0.97,1)" font-size="8.5" fill="#222" stroke="#222" stroke-width="0.2" text-anchor="middle">50</text>
<text transform="translate(152.00,510.50)" font-size="10.4" fill="#222" stroke="#222" stroke-width="0.2" text-anchor="middle" textLength="149" lengthAdjust="spacingAndGlyphs">Time from MRD assessment (months)</text>
<text transform="translate(25.8,382.6) rotate(-90)" font-size="10.4" fill="#222" stroke="#222" stroke-width="0.2" text-anchor="middle" textLength="95" lengthAdjust="spacingAndGlyphs">Time to progression (%)</text>
<text transform="translate(59.20,477.60)" font-size="7.8" fill="#222" stroke="#222" stroke-width="0.2" textLength="23.4" lengthAdjust="spacingAndGlyphs"><tspan font-style="italic">P</tspan> = .07</text>
<path d="M60.9,292.4 L60.9,292.4 L60.9,297.0 L68.7,297.0 L68.7,306.4 L72.0,306.4 L72.0,314.6 L75.4,314.6 L75.4,322.8 L79.7,322.8 L79.7,325.9 L83.1,325.9 L83.1,329.5 L88.0,329.5 L88.0,331.5 L93.7,331.5 L93.7,335.6 L97.6,335.6 L97.6,342.3 L100.4,342.3 L100.4,343.5 L105.0,343.5 L105.0,352.7 L107.7,352.7 L107.7,354.6 L112.7,354.6 L112.7,355.8 L115.8,355.8 L115.8,363.1 L118.8,363.1 L118.8,366.2 L123.5,366.2 L123.5,367.7 L126.1,367.7 L126.1,371.7 L130.4,371.7 L130.4,374.3 L133.4,374.3 L133.4,379.5 L138.2,379.5 L138.2,382.5 L141.6,382.5 L141.6,385.1 L145.5,385.1 L145.5,388.5 L148.5,388.5 L148.5,391.6 L152.0,391.6 L152.0,394.6 L156.0,394.6 L156.0,397.2 L159.4,397.2 L159.4,399.4 L206.9,399.4" fill="none" stroke="#e2b880" stroke-width="1.25"/>
<line x1="66.00" y1="295.50" x2="66.00" y2="298.50" stroke="#c9a470" stroke-width="1.5" />
<line x1="90.00" y1="330.00" x2="90.00" y2="333.00" stroke="#c9a470" stroke-width="1.5" />
<line x1="110.00" y1="353.10" x2="110.00" y2="356.10" stroke="#c9a470" stroke-width="1.5" />
<line x1="121.00" y1="364.70" x2="121.00" y2="367.70" stroke="#c9a470" stroke-width="1.5" />
<line x1="136.00" y1="378.00" x2="136.00" y2="381.00" stroke="#c9a470" stroke-width="1.5" />
<line x1="150.00" y1="390.10" x2="150.00" y2="393.10" stroke="#c9a470" stroke-width="1.5" />
<line x1="162.00" y1="397.90" x2="162.00" y2="400.90" stroke="#c9a470" stroke-width="1.5" />
<line x1="165.50" y1="397.90" x2="165.50" y2="400.90" stroke="#c9a470" stroke-width="1.5" />
<line x1="169.00" y1="397.90" x2="169.00" y2="400.90" stroke="#c9a470" stroke-width="1.5" />
<line x1="172.60" y1="397.90" x2="172.60" y2="400.90" stroke="#c9a470" stroke-width="1.5" />
<line x1="186.20" y1="397.90" x2="186.20" y2="400.90" stroke="#c9a470" stroke-width="1.5" />
<line x1="189.50" y1="397.90" x2="189.50" y2="400.90" stroke="#c9a470" stroke-width="1.5" />
<line x1="206.90" y1="397.90" x2="206.90" y2="400.90" stroke="#c9a470" stroke-width="1.5" />
<path d="M60.9,292.4 L60.9,292.4 L60.9,306.3 L64.5,306.3 L64.5,320.7 L83.5,320.7 L83.5,334.2 L90.7,334.2 L90.7,348.5 L94.2,348.5 L94.2,376.3 L101.7,376.3 L101.7,390.2 L115.8,390.2 L115.8,407.4 L215.0,407.4" fill="none" stroke="#9e1b3c" stroke-width="1.25"/>
<line x1="108.80" y1="388.70" x2="108.80" y2="391.70" stroke="#5e1024" stroke-width="1.5" />
<line x1="122.90" y1="405.90" x2="122.90" y2="408.90" stroke="#5e1024" stroke-width="1.5" />
<line x1="126.70" y1="405.90" x2="126.70" y2="408.90" stroke="#5e1024" stroke-width="1.5" />
<line x1="140.80" y1="405.90" x2="140.80" y2="408.90" stroke="#5e1024" stroke-width="1.5" />
<line x1="215.00" y1="405.90" x2="215.00" y2="408.90" stroke="#5e1024" stroke-width="1.5" />
<path d="M60.8,292.4 L108.8,292.4 L108.8,306.2 L137.7,306.2 L137.7,330.6 L141.0,330.6 L141.0,354.4 L145.2,354.4 L145.2,378.5 L171.0,378.5" fill="none" stroke="#5f91c4" stroke-width="1.25"/>
<line x1="94.10" y1="290.90" x2="94.10" y2="293.90" stroke="#4a77a8" stroke-width="1.5" />
<line x1="97.40" y1="290.90" x2="97.40" y2="293.90" stroke="#4a77a8" stroke-width="1.5" />
<line x1="104.80" y1="290.90" x2="104.80" y2="293.90" stroke="#4a77a8" stroke-width="1.5" />
<line x1="116.20" y1="304.70" x2="116.20" y2="307.70" stroke="#4a77a8" stroke-width="1.5" />
<line x1="119.40" y1="304.70" x2="119.40" y2="307.70" stroke="#4a77a8" stroke-width="1.5" />
<line x1="123.30" y1="304.70" x2="123.30" y2="307.70" stroke="#4a77a8" stroke-width="1.5" />
<line x1="127.10" y1="304.70" x2="127.10" y2="307.70" stroke="#4a77a8" stroke-width="1.5" />
<line x1="145.30" y1="377.00" x2="145.30" y2="380.00" stroke="#4a77a8" stroke-width="1.5" />
<line x1="148.80" y1="377.00" x2="148.80" y2="380.00" stroke="#4a77a8" stroke-width="1.5" />
<line x1="155.90" y1="377.00" x2="155.90" y2="380.00" stroke="#4a77a8" stroke-width="1.5" />
<line x1="171.00" y1="377.00" x2="171.00" y2="380.00" stroke="#4a77a8" stroke-width="1.5" />
<text transform="translate(186.80,348.30)" font-size="7.8" fill="#86a6ca" stroke="#86a6ca" stroke-width="0.2" textLength="60.5" lengthAdjust="spacingAndGlyphs">Cluster A (n = 16)</text>
<text transform="translate(186.80,357.00)" font-size="7.8" fill="#86a6ca" stroke="#86a6ca" stroke-width="0.2" textLength="56" lengthAdjust="spacingAndGlyphs">median TTP: NR</text>
<text transform="translate(186.80,385.20)" font-size="7.8" fill="#e4c49a" stroke="#e4c49a" stroke-width="0.2" textLength="64" lengthAdjust="spacingAndGlyphs">Cluster B (n = 116)</text>
<text transform="translate(186.80,394.20)" font-size="7.8" fill="#e4c49a" stroke="#e4c49a" stroke-width="0.2" textLength="59" lengthAdjust="spacingAndGlyphs">median TTP: 22m</text>
<text transform="translate(186.80,424.50)" font-size="7.8" fill="#8e2a45" stroke="#8e2a45" stroke-width="0.2" textLength="60.5" lengthAdjust="spacingAndGlyphs">Cluster C (n = 13)</text>
<text transform="translate(186.80,434.00)" font-size="7.8" fill="#8e2a45" stroke="#8e2a45" stroke-width="0.2" textLength="59" lengthAdjust="spacingAndGlyphs">median TTP: 11m</text>
<text transform="translate(268.70,277.20)" font-size="11.8" fill="#000" font-weight="bold">D</text>
<line x1="302.30" y1="283.20" x2="302.30" y2="484.60" stroke="#111" stroke-width="1.2" />
<line x1="301.70" y1="484.00" x2="503.80" y2="484.00" stroke="#111" stroke-width="1.2" />
<line x1="299.10" y1="292.50" x2="302.30" y2="292.50" stroke="#222" stroke-width="1" />
<text transform="translate(296.40,295.40) scale(0.97,1)" font-size="8.5" fill="#222" stroke="#222" stroke-width="0.2" text-anchor="end">100</text>
<line x1="299.10" y1="328.86" x2="302.30" y2="328.86" stroke="#222" stroke-width="1" />
<text transform="translate(296.40,331.76) scale(0.97,1)" font-size="8.5" fill="#222" stroke="#222" stroke-width="0.2" text-anchor="end">80</text>
<line x1="299.10" y1="365.22" x2="302.30" y2="365.22" stroke="#222" stroke-width="1" />
<text transform="translate(296.40,368.12) scale(0.97,1)" font-size="8.5" fill="#222" stroke="#222" stroke-width="0.2" text-anchor="end">60</text>
<line x1="299.10" y1="401.58" x2="302.30" y2="401.58" stroke="#222" stroke-width="1" />
<text transform="translate(296.40,404.48) scale(0.97,1)" font-size="8.5" fill="#222" stroke="#222" stroke-width="0.2" text-anchor="end">40</text>
<line x1="299.10" y1="437.94" x2="302.30" y2="437.94" stroke="#222" stroke-width="1" />
<text transform="translate(296.40,440.84) scale(0.97,1)" font-size="8.5" fill="#222" stroke="#222" stroke-width="0.2" text-anchor="end">20</text>
<line x1="299.10" y1="474.30" x2="302.30" y2="474.30" stroke="#222" stroke-width="1" />
<text transform="translate(296.40,477.20) scale(0.97,1)" font-size="8.5" fill="#222" stroke="#222" stroke-width="0.2" text-anchor="end">0</text>
<line x1="312.90" y1="484.00" x2="312.90" y2="487.20" stroke="#222" stroke-width="1" />
<text transform="translate(312.90,497.30) scale(0.97,1)" font-size="8.5" fill="#222" stroke="#222" stroke-width="0.2" text-anchor="middle">0</text>
<line x1="349.05" y1="484.00" x2="349.05" y2="487.20" stroke="#222" stroke-width="1" />
<text transform="translate(349.05,497.30) scale(0.97,1)" font-size="8.5" fill="#222" stroke="#222" stroke-width="0.2" text-anchor="middle">10</text>
<line x1="385.20" y1="484.00" x2="385.20" y2="487.20" stroke="#222" stroke-width="1" />
<text transform="translate(385.20,497.30) scale(0.97,1)" font-size="8.5" fill="#222" stroke="#222" stroke-width="0.2" text-anchor="middle">20</text>
<line x1="421.35" y1="484.00" x2="421.35" y2="487.20" stroke="#222" stroke-width="1" />
<text transform="translate(421.35,497.30) scale(0.97,1)" font-size="8.5" fill="#222" stroke="#222" stroke-width="0.2" text-anchor="middle">30</text>
<line x1="457.50" y1="484.00" x2="457.50" y2="487.20" stroke="#222" stroke-width="1" />
<text transform="translate(457.50,497.30) scale(0.97,1)" font-size="8.5" fill="#222" stroke="#222" stroke-width="0.2" text-anchor="middle">40</text>
<line x1="493.65" y1="484.00" x2="493.65" y2="487.20" stroke="#222" stroke-width="1" />
<text transform="translate(493.65,497.30) scale(0.97,1)" font-size="8.5" fill="#222" stroke="#222" stroke-width="0.2" text-anchor="middle">50</text>
<text transform="translate(403.00,510.50)" font-size="10.4" fill="#222" stroke="#222" stroke-width="0.2" text-anchor="middle" textLength="149" lengthAdjust="spacingAndGlyphs">Time from MRD assessment (months)</text>
<text transform="translate(276.8,383) rotate(-90)" font-size="10.4" fill="#222" stroke="#222" stroke-width="0.2" text-anchor="middle" textLength="78" lengthAdjust="spacingAndGlyphs">Overall survival (%)</text>
<text transform="translate(308.60,477.20)" font-size="7.8" fill="#222" stroke="#222" stroke-width="0.2" textLength="23.2" lengthAdjust="spacingAndGlyphs"><tspan font-style="italic">P</tspan> = .01</text>
<path d="M312.6,292.6 L323.3,292.6 L323.3,295.6 L335.0,295.6 L335.0,298.5 L344.4,298.5 L344.4,300.4 L348.3,300.4 L348.3,302.3 L352.1,302.3 L352.1,305.2 L355.4,305.2 L355.4,308.0 L363.7,308.0 L363.7,311.0 L366.9,311.0 L366.9,313.8 L371.3,313.8 L371.3,315.4 L388.7,315.4 L388.7,320.6 L395.0,320.6 L395.0,329.6 L406.0,329.6 L406.0,337.3 L414.2,337.3 L414.2,342.1 L417.7,342.1 L417.7,349.2 L432.5,349.2 L432.5,363.3 L458.5,363.3" fill="none" stroke="#e2b880" stroke-width="1.25"/>
<line x1="327.00" y1="294.10" x2="327.00" y2="297.10" stroke="#c9a470" stroke-width="1.5" />
<line x1="339.00" y1="297.00" x2="339.00" y2="300.00" stroke="#c9a470" stroke-width="1.5" />
<line x1="346.00" y1="298.90" x2="346.00" y2="301.90" stroke="#c9a470" stroke-width="1.5" />
<line x1="350.00" y1="300.80" x2="350.00" y2="303.80" stroke="#c9a470" stroke-width="1.5" />
<line x1="358.00" y1="306.50" x2="358.00" y2="309.50" stroke="#c9a470" stroke-width="1.5" />
<line x1="361.00" y1="306.50" x2="361.00" y2="309.50" stroke="#c9a470" stroke-width="1.5" />
<line x1="368.00" y1="312.30" x2="368.00" y2="315.30" stroke="#c9a470" stroke-width="1.5" />
<line x1="375.00" y1="313.90" x2="375.00" y2="316.90" stroke="#c9a470" stroke-width="1.5" />
<line x1="378.00" y1="313.90" x2="378.00" y2="316.90" stroke="#c9a470" stroke-width="1.5" />
<line x1="381.00" y1="313.90" x2="381.00" y2="316.90" stroke="#c9a470" stroke-width="1.5" />
<line x1="384.00" y1="313.90" x2="384.00" y2="316.90" stroke="#c9a470" stroke-width="1.5" />
<line x1="392.00" y1="319.10" x2="392.00" y2="322.10" stroke="#c9a470" stroke-width="1.5" />
<line x1="398.80" y1="328.10" x2="398.80" y2="331.10" stroke="#c9a470" stroke-width="1.5" />
<line x1="401.70" y1="328.10" x2="401.70" y2="331.10" stroke="#c9a470" stroke-width="1.5" />
<line x1="404.60" y1="328.10" x2="404.60" y2="331.10" stroke="#c9a470" stroke-width="1.5" />
<line x1="408.50" y1="335.80" x2="408.50" y2="338.80" stroke="#c9a470" stroke-width="1.5" />
<line x1="420.40" y1="347.70" x2="420.40" y2="350.70" stroke="#c9a470" stroke-width="1.5" />
<line x1="424.80" y1="347.70" x2="424.80" y2="350.70" stroke="#c9a470" stroke-width="1.5" />
<line x1="427.70" y1="347.70" x2="427.70" y2="350.70" stroke="#c9a470" stroke-width="1.5" />
<line x1="431.20" y1="347.70" x2="431.20" y2="350.70" stroke="#c9a470" stroke-width="1.5" />
<line x1="435.40" y1="361.80" x2="435.40" y2="364.80" stroke="#c9a470" stroke-width="1.5" />
<line x1="439.20" y1="361.80" x2="439.20" y2="364.80" stroke="#c9a470" stroke-width="1.5" />
<line x1="453.70" y1="361.80" x2="453.70" y2="364.80" stroke="#c9a470" stroke-width="1.5" />
<line x1="457.50" y1="361.80" x2="457.50" y2="364.80" stroke="#c9a470" stroke-width="1.5" />
<path d="M312.6,292.6 L316.5,292.6 L316.5,320.6 L381.9,320.6 L381.9,351.5 L385.3,351.5 L385.3,381.9 L396.2,381.9 L396.2,427.9 L465.6,427.9" fill="none" stroke="#9e1b3c" stroke-width="1.25"/>
<line x1="359.80" y1="319.10" x2="359.80" y2="322.10" stroke="#5e1024" stroke-width="1.5" />
<line x1="363.70" y1="319.10" x2="363.70" y2="322.10" stroke="#5e1024" stroke-width="1.5" />
<line x1="367.50" y1="319.10" x2="367.50" y2="322.10" stroke="#5e1024" stroke-width="1.5" />
<line x1="371.30" y1="319.10" x2="371.30" y2="322.10" stroke="#5e1024" stroke-width="1.5" />
<line x1="374.60" y1="319.10" x2="374.60" y2="322.10" stroke="#5e1024" stroke-width="1.5" />
<line x1="378.50" y1="319.10" x2="378.50" y2="322.10" stroke="#5e1024" stroke-width="1.5" />
<line x1="392.70" y1="380.40" x2="392.70" y2="383.40" stroke="#5e1024" stroke-width="1.5" />
<line x1="465.60" y1="426.40" x2="465.60" y2="429.40" stroke="#5e1024" stroke-width="1.5" />
<path d="M312.3,292.6 L425.8,292.6" fill="none" stroke="#5f91c4" stroke-width="1.25"/>
<line x1="345.40" y1="291.10" x2="345.40" y2="294.10" stroke="#4a77a8" stroke-width="1.5" />
<line x1="348.80" y1="291.10" x2="348.80" y2="294.10" stroke="#4a77a8" stroke-width="1.5" />
<line x1="356.00" y1="291.10" x2="356.00" y2="294.10" stroke="#4a77a8" stroke-width="1.5" />
<line x1="366.90" y1="291.10" x2="366.90" y2="294.10" stroke="#4a77a8" stroke-width="1.5" />
<line x1="370.00" y1="291.10" x2="370.00" y2="294.10" stroke="#4a77a8" stroke-width="1.5" />
<line x1="374.20" y1="291.10" x2="374.20" y2="294.10" stroke="#4a77a8" stroke-width="1.5" />
<line x1="377.70" y1="291.10" x2="377.70" y2="294.10" stroke="#4a77a8" stroke-width="1.5" />
<line x1="389.20" y1="291.10" x2="389.20" y2="294.10" stroke="#4a77a8" stroke-width="1.5" />
<line x1="395.40" y1="291.10" x2="395.40" y2="294.10" stroke="#4a77a8" stroke-width="1.5" />
<line x1="399.20" y1="291.10" x2="399.20" y2="294.10" stroke="#4a77a8" stroke-width="1.5" />
<line x1="409.20" y1="291.10" x2="409.20" y2="294.10" stroke="#4a77a8" stroke-width="1.5" />
<line x1="417.30" y1="291.10" x2="417.30" y2="294.10" stroke="#4a77a8" stroke-width="1.5" />
<line x1="421.90" y1="291.10" x2="421.90" y2="294.10" stroke="#4a77a8" stroke-width="1.5" />
<line x1="424.90" y1="291.10" x2="424.90" y2="294.10" stroke="#4a77a8" stroke-width="1.5" />
<text transform="translate(427.70,301.60)" font-size="7.8" fill="#86a6ca" stroke="#86a6ca" stroke-width="0.2" textLength="60" lengthAdjust="spacingAndGlyphs">Cluster A (n = 16)</text>
<text transform="translate(427.70,311.00)" font-size="7.8" fill="#86a6ca" stroke="#86a6ca" stroke-width="0.2" textLength="58.8" lengthAdjust="spacingAndGlyphs">3-year OS: 100%</text>
<text transform="translate(431.20,376.60)" font-size="7.8" fill="#e4c49a" stroke="#e4c49a" stroke-width="0.2" textLength="64" lengthAdjust="spacingAndGlyphs">Cluster B (n = 116)</text>
<text transform="translate(431.20,385.60)" font-size="7.8" fill="#e4c49a" stroke="#e4c49a" stroke-width="0.2" textLength="56.5" lengthAdjust="spacingAndGlyphs">3-year OS: 61%</text>
<text transform="translate(382.30,457.60)" font-size="7.8" fill="#8e2a45" stroke="#8e2a45" stroke-width="0.2" textLength="60.2" lengthAdjust="spacingAndGlyphs">Cluster C (n = 13)</text>
<text transform="translate(382.30,466.40)" font-size="7.8" fill="#8e2a45" stroke="#8e2a45" stroke-width="0.2" textLength="54.4" lengthAdjust="spacingAndGlyphs">3-year OS: 25%</text>
<rect x="0.5" y="0.5" width="519" height="519" fill="none" stroke="#111" stroke-width="1"/>
</svg>
</body></html>
